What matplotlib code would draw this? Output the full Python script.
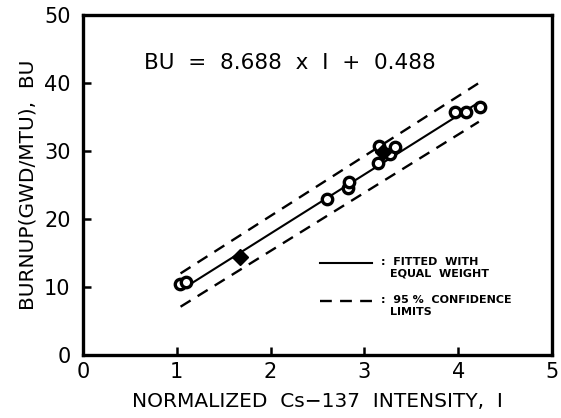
import numpy as np
import matplotlib
matplotlib.use('Agg')
import matplotlib.pyplot as plt

plt.rcParams['font.family'] = ['DejaVu Sans']

# measured points (open circles)
intensity = [1.03, 1.10, 2.60, 2.82, 2.84, 3.15, 3.16, 3.27, 3.33, 3.97, 4.08, 4.23]
burnup = [10.4, 10.8, 23.0, 24.5, 25.5, 28.2, 30.8, 29.6, 30.6, 35.7, 35.7, 36.4]

# filled markers
intensity_f = [1.67, 3.20]
burnup_f = [14.4, 29.8]

# fitted line BU = 8.688 I + 0.488
slope = 8.688
intercept = 0.488
fit_range = [1.05, 4.20]

# 95 % confidence limits
band_x = [1.04, 4.22]
band_upper = [12.0, 40.0]
band_lower = [7.1, 34.3]

fig = plt.figure(figsize=(5.61, 4.18), dpi=100)
ax = fig.add_axes([83 / 561, 1 - 355 / 418, (552 - 83) / 561, (355 - 15) / 418])

fx = np.array(fit_range)
ax.plot(fx, slope * fx + intercept, color='black', lw=1.5)
ax.plot(band_x, band_upper, color='black', lw=1.7, dashes=(5, 3.5))
ax.plot(band_x, band_lower, color='black', lw=1.7, dashes=(5, 3.5))

ax.plot(intensity, burnup, 'o', mfc='white', mec='black', ms=7.5, mew=2.4)
ax.plot(intensity_f, burnup_f, 'D', color='black', ms=8.5)

ax.text(0.65, 42.9, 'BU  =  8.688  x  I  +  0.488', fontsize=15.5, va='center')

# hand-drawn legend
ax.plot([2.53, 3.08], [13.6, 13.6], color='black', lw=1.5)
ax.plot([2.53, 3.08], [8.0, 8.0], color='black', lw=1.7, dashes=(5, 3.5))
ax.text(3.18, 13.7, ':  FITTED  WITH', fontsize=8, weight='bold', va='center')
ax.text(3.27, 12.0, 'EQUAL  WEIGHT', fontsize=8, weight='bold', va='center')
ax.text(3.18, 8.1, ':  95 %  CONFIDENCE', fontsize=8, weight='bold', va='center')
ax.text(3.27, 6.3, 'LIMITS', fontsize=8, weight='bold', va='center')

ax.set_xlim(0, 5)
ax.set_ylim(0, 50)
ax.set_xticks([0, 1, 2, 3, 4, 5])
ax.set_yticks([0, 10, 20, 30, 40, 50])
ax.tick_params(direction='in', length=6, width=1.8, labelsize=15, pad=5)
ax.tick_params(axis='y', pad=9)
for s in ax.spines.values():
    s.set_linewidth(2.4)

ax.set_xlabel('NORMALIZED  Cs\u2212137  INTENSITY,  I', fontsize=14.5, labelpad=7)
ax.set_ylabel('BURNUP(GWD/MTU),  BU', fontsize=14.5, labelpad=5)

fig.savefig('out.png', dpi=100)
